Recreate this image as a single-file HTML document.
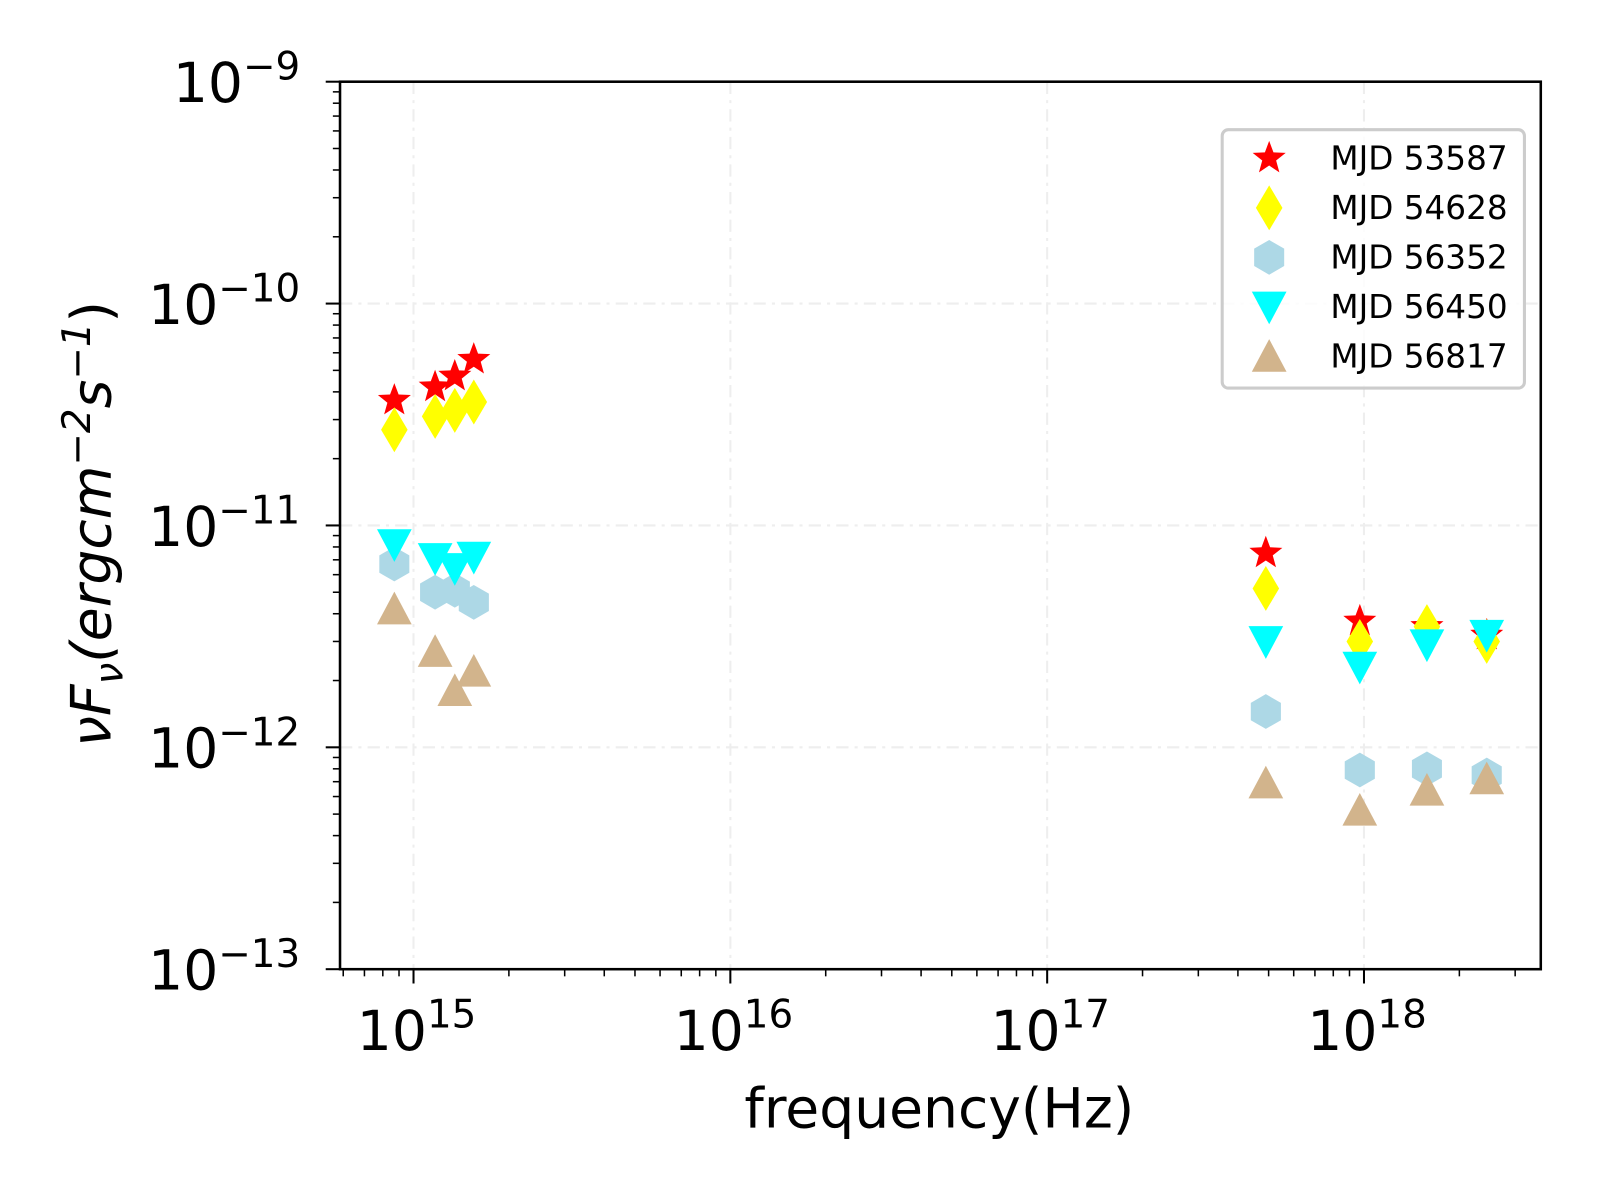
<!DOCTYPE html>
<html><head><meta charset="utf-8"><style>body{margin:0;background:#fff}svg{display:block}text{font-family:"DejaVu Sans","Liberation Sans",sans-serif}</style></head>
<body>
<svg id="chart" width="1600" height="1200" viewBox="0 0 1567 1175" preserveAspectRatio="none" xmlns="http://www.w3.org/2000/svg">
<g id="grid"></g>
<g id="ticks"></g>
<g id="marks"></g>
<rect x="333" y="80" width="1176" height="869" fill="none" stroke="#000" stroke-width="2.5"/>
<text x="920" y="1104" font-size="54" text-anchor="middle">frequency(Hz)</text>
<text transform="translate(108,513) rotate(-90)" font-size="54" text-anchor="middle" font-style="italic">νF<tspan font-size="38" dy="12">ν</tspan><tspan dy="-12">(ergcm</tspan><tspan font-size="38" dy="-20">−2</tspan><tspan dy="20">s</tspan><tspan font-size="38" dy="-20">−1</tspan><tspan dy="20" font-style="normal">)</tspan></text>
<g id="legend">
<rect x="1197" y="127" width="296" height="253" rx="6" fill="#fff" fill-opacity="0.8" stroke="#ccc" stroke-width="3"/>
</g>
</svg>
<script>
const freqs = [8.7e14, 1.17e15, 1.35e15, 1.55e15, 4.9e17, 9.7e17, 1.58e18, 2.44e18];
const mjd53587 = [3.66e-11, 4.2e-11, 4.7e-11, 5.6e-11, 7.5e-12, 3.7e-12, 3.5e-12, 3.2e-12];
const mjd54628 = [2.7e-11, 3.1e-11, 3.3e-11, 3.6e-11, 5.2e-12, 3.0e-12, 3.5e-12, 3.0e-12];
const mjd56352 = [6.7e-12, 5.0e-12, 5.1e-12, 4.5e-12, 1.45e-12, 7.9e-13, 8.0e-13, 7.5e-13];
const mjd56450 = [8.2e-12, 7.1e-12, 6.4e-12, 7.2e-12, 3.0e-12, 2.3e-12, 2.9e-12, 3.2e-12];
const mjd56817 = [4.2e-12, 2.7e-12, 1.8e-12, 2.2e-12, 6.9e-13, 5.2e-13, 6.4e-13, 7.2e-13];
const seriesNames = ["MJD 53587","MJD 54628","MJD 56352","MJD 56450","MJD 56817"];
const xTickExps = [15,16,17,18];
const yTickExps = [-9,-10,-11,-12,-13];

const NS="http://www.w3.org/2000/svg";
const X0=333,X1=1509,Y0=80,Y1=949;
const xlo=14.768,xhi=18.558,ylo=-13,yhi=-9;
const xs=v=>X0+(Math.log10(v)-xlo)/(xhi-xlo)*(X1-X0);
const ys=v=>Y1-(Math.log10(v)-ylo)/(yhi-ylo)*(Y1-Y0);
function mk(tag,attrs,parent){const e=document.createElementNS(NS,tag);for(const k in attrs)e.setAttribute(k,attrs[k]);parent.appendChild(e);return e;}
const grid=document.getElementById('grid'),ticks=document.getElementById('ticks'),marks=document.getElementById('marks'),legend=document.getElementById('legend');

xTickExps.forEach(e=>{const x=xs(Math.pow(10,e));
 let g=mk('line',{x1:x,x2:x,y1:Y0,y2:Y1,stroke:'#eee','stroke-width':2,'stroke-dasharray':'12 6 3 6'},grid);
 
 mk('line',{x1:x,x2:x,y1:Y1,y2:Y1+14,stroke:'#000','stroke-width':2},ticks);
 const t=mk('text',{x:x+3,y:1028,'font-size':54,'text-anchor':'middle'},ticks);
 
 t.innerHTML='10<tspan font-size="38" dy="-22">'+e+'</tspan>';
});
for(let e=14;e<=18;e++)for(let m=2;m<=9;m++){const v=m*Math.pow(10,e);const lv=Math.log10(v);if(lv<xlo||lv>xhi)continue;const x=xs(v);
 mk('line',{x1:x,x2:x,y1:Y1,y2:Y1+7,stroke:'#000','stroke-width':1.5},ticks);}
yTickExps.forEach(e=>{const y=ys(Math.pow(10,e));
 if(e>-13&&e<-9){let g=mk('line',{x1:X0,x2:X1,y1:y,y2:y,stroke:'#eee','stroke-width':2,'stroke-dasharray':'12 6 3 6'},grid);
 }
 mk('line',{x1:X0-14,x2:X0,y1:y,y2:y,stroke:'#000','stroke-width':2},ticks);
 const t=mk('text',{x:294,y:y+20,'font-size':54,'text-anchor':'end'},ticks);
 
 t.innerHTML='10<tspan font-size="38" dy="-22">−'+(-e)+'</tspan>';
});
for(let e=-13;e<-9;e++)for(let m=2;m<=9;m++){const y=ys(m*Math.pow(10,e));
 mk('line',{x1:X0-7,x2:X0,y1:y,y2:y,stroke:'#000','stroke-width':1.5},ticks);}

function star(cx,cy,r){let p=[];for(let i=0;i<10;i++){const a=-Math.PI/2+i*Math.PI/5,rr=i%2?r*0.42:r;p.push((cx+rr*Math.cos(a)).toFixed(1)+','+(cy+rr*Math.sin(a)).toFixed(1));}return p.join(' ');}
function hex(cx,cy,r){let p=[];for(let i=0;i<6;i++){const a=-Math.PI/2+i*Math.PI/3;p.push((cx+r*Math.cos(a)).toFixed(1)+','+(cy+r*Math.sin(a)).toFixed(1));}return p.join(' ');}
const shapes=[
 (x,y)=>['polygon',{points:star(x,y,17),fill:'red'}],
 (x,y)=>['polygon',{points:`${x},${y-22} ${x+13},${y} ${x},${y+22} ${x-13},${y}`,fill:'yellow'}],
 (x,y)=>['polygon',{points:hex(x,y,17),fill:'lightblue'}],
 (x,y)=>['polygon',{points:`${x-17},${y-15} ${x+17},${y-15} ${x},${y+17}`,fill:'cyan'}],
 (x,y)=>['polygon',{points:`${x-17},${y+15} ${x+17},${y+15} ${x},${y-17}`,fill:'tan'}]
];
const series=[mjd53587,mjd54628,mjd56352,mjd56450,mjd56817];
[0,1,2,3,4].forEach(s=>{series[s].forEach((v,i)=>{const [tag,a]=shapes[s](xs(freqs[i]),ys(v));const el=mk(tag,a,marks);
 
 });});
seriesNames.forEach((n,s)=>{const y=155+s*48.5;const [tag,a]=shapes[s](1243,y);mk(tag,a,legend);
 const t=mk('text',{x:1303,y:y+11,'font-size':32},legend);t.textContent=n;
 
 });
</script>
</body></html>
